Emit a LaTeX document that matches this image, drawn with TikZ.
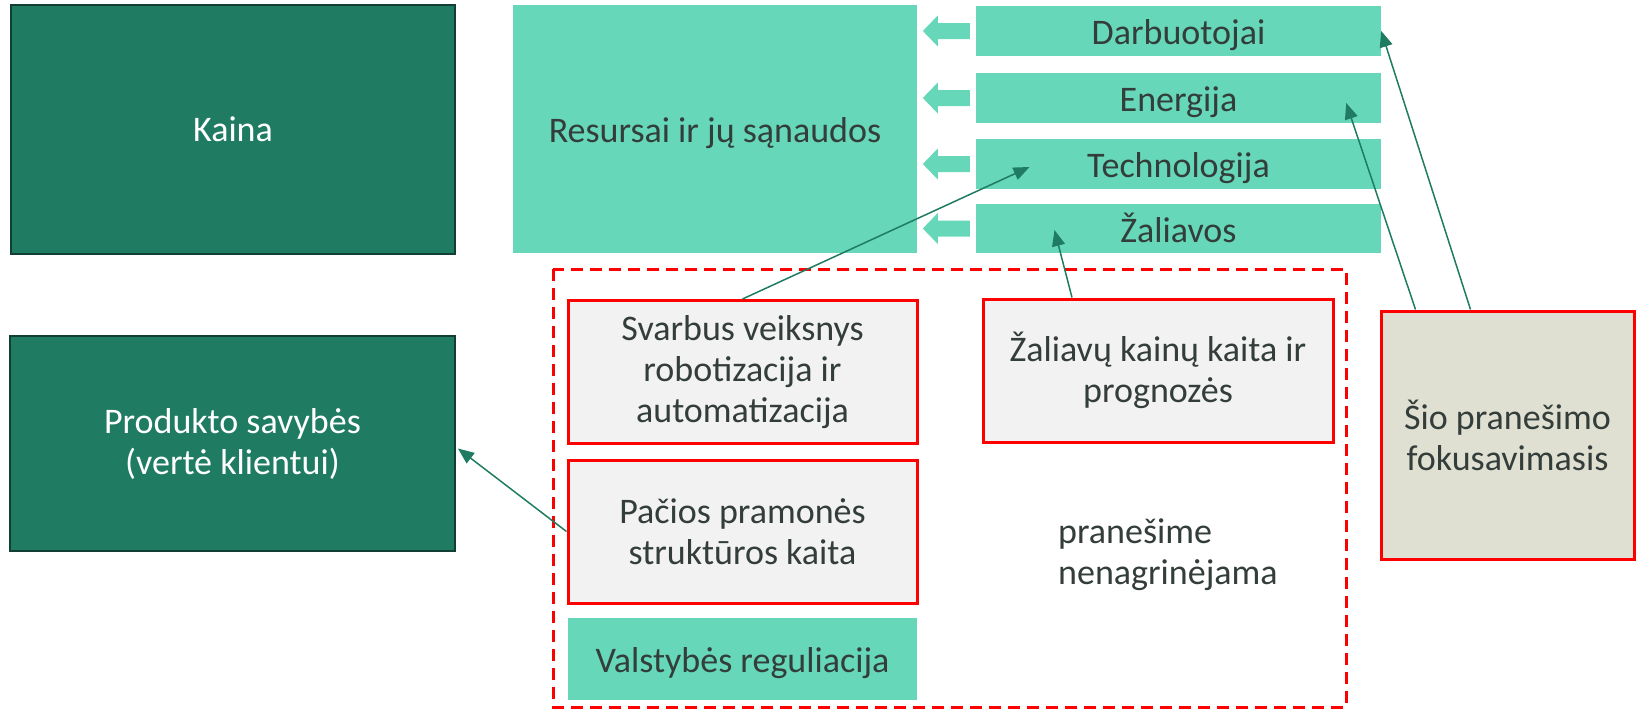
\documentclass[tikz,border=0pt]{standalone}
\usepackage{fontspec}
\setmainfont{Carlito}
\usetikzlibrary{arrows.meta,calc}
\definecolor{dkgreen}{HTML}{1F7B62}
\definecolor{dkborder}{HTML}{123F33}
\definecolor{teal}{HTML}{66D7B9}
\definecolor{txt}{HTML}{333D3A}
\definecolor{lgray}{HTML}{F2F2F2}
\definecolor{beige}{HTML}{DFDFD2}
\definecolor{arr}{HTML}{1F7B62}
\begin{document}
\begin{tikzpicture}[x=1pt,y=-1pt,
  base/.style={rectangle,inner sep=0pt,align=center,font=\fontsize{36}{41}\selectfont},
  darkbox/.style={base,fill=dkgreen,draw=dkborder,line width=2pt,text=white},
  tealbox/.style={base,fill=teal,text=txt},
  oneline/.style={text height=33pt,text depth=6pt},
  redbox/.style={base,fill=lgray,draw=red,line width=3pt,text=txt},
  link/.style={draw=arr,line width=1.5pt,-{Triangle[length=16pt,width=13pt]}},
  blockarrow/.style={fill=teal}
]
\useasboundingbox (0,0) rectangle (1636,710);
% left dark boxes
\node[darkbox,minimum width=444pt,minimum height=249pt] (kaina) at (233,129.5) {Kaina};
\node[darkbox,minimum width=445pt,minimum height=215pt] (prod) at (232.5,443.5) {Produkto savybės\\(vertė klientui)};
% resources
\node[tealbox,oneline,minimum width=404pt,minimum height=248pt] (res) at (715,129) {Resursai ir jų sąnaudos};
\node[tealbox,oneline,minimum width=405pt,minimum height=50pt] (darb) at (1178.5,31) {Darbuotojai};
\node[tealbox,oneline,minimum width=405pt,minimum height=50pt] (ener) at (1178.5,98) {Energija};
\node[tealbox,oneline,minimum width=405pt,minimum height=50pt] (tech) at (1178.5,164) {Technologija};
\node[tealbox,oneline,minimum width=405pt,minimum height=49pt] (zal) at (1178.5,228.5) {Žaliavos};
% block arrows
\foreach \n in {darb,ener,tech,zal}{
  \fill[blockarrow] ($(\n.west)+(-6,-8)$) -- ($(\n.west)+(-38,-8)$) -- ($(\n.west)+(-38,-15.5)$)
    -- ($(\n.west)+(-53,0)$) -- ($(\n.west)+(-38,15.5)$) -- ($(\n.west)+(-38,8)$) -- ($(\n.west)+(-6,8)$) -- cycle;
}
% dashed region
\draw[red,line width=3pt,dash pattern=on 12pt off 7pt] (553,269) rectangle (1346,707);
\node[redbox,minimum width=349pt,minimum height=143pt] (svar) at (742.5,372) {Svarbus veiksnys\\robotizacija ir\\automatizacija};
\node[redbox,minimum width=349pt,minimum height=143pt] (pac) at (742.5,531.5) {Pačios pramonės\\struktūros kaita};
\node[tealbox,oneline,minimum width=349pt,minimum height=82pt] (valst) at (742.5,659) {Valstybės reguliacija};
\node[redbox,minimum width=350pt,minimum height=143pt] (zkk) at (1158,370.5) {Žaliavų kainų kaita ir\\prognozės};
\node[base,text=txt,align=left,anchor=west] (nenag) at (1058,555) {pranešime\\nenagrinėjama};
% focus box
\node[redbox,fill=beige,minimum width=253pt,minimum height=248pt] (sio) at (1507.5,435) {Šio pranešimo\\fokusavimasis};
% connectors
\coordinate (t1) at ($(tech.center)+(-149,3)$);
\coordinate (t2) at ($(prod.east)+(2,5)$);
\coordinate (s3) at ($(zkk.north)+(-86,0)$);
\coordinate (t3) at ($(zal.center)+(-124,1.5)$);
\coordinate (s4) at ($(sio.north west)+(36,0)$);
\coordinate (t4) at ($(ener.east)+(-35,5)$);
\coordinate (s5) at ($(sio.north west)+(91,0)$);
\coordinate (t5) at ($(darb.east)+(0,0)$);
\draw[link] (svar.north) -- (t1);
\draw[link] (pac.west) -- (t2);
\draw[link] (s3) -- (t3);
\draw[link] (s4) -- (t4);
\draw[link] (s5) -- (t5);
\end{tikzpicture}
\end{document}
